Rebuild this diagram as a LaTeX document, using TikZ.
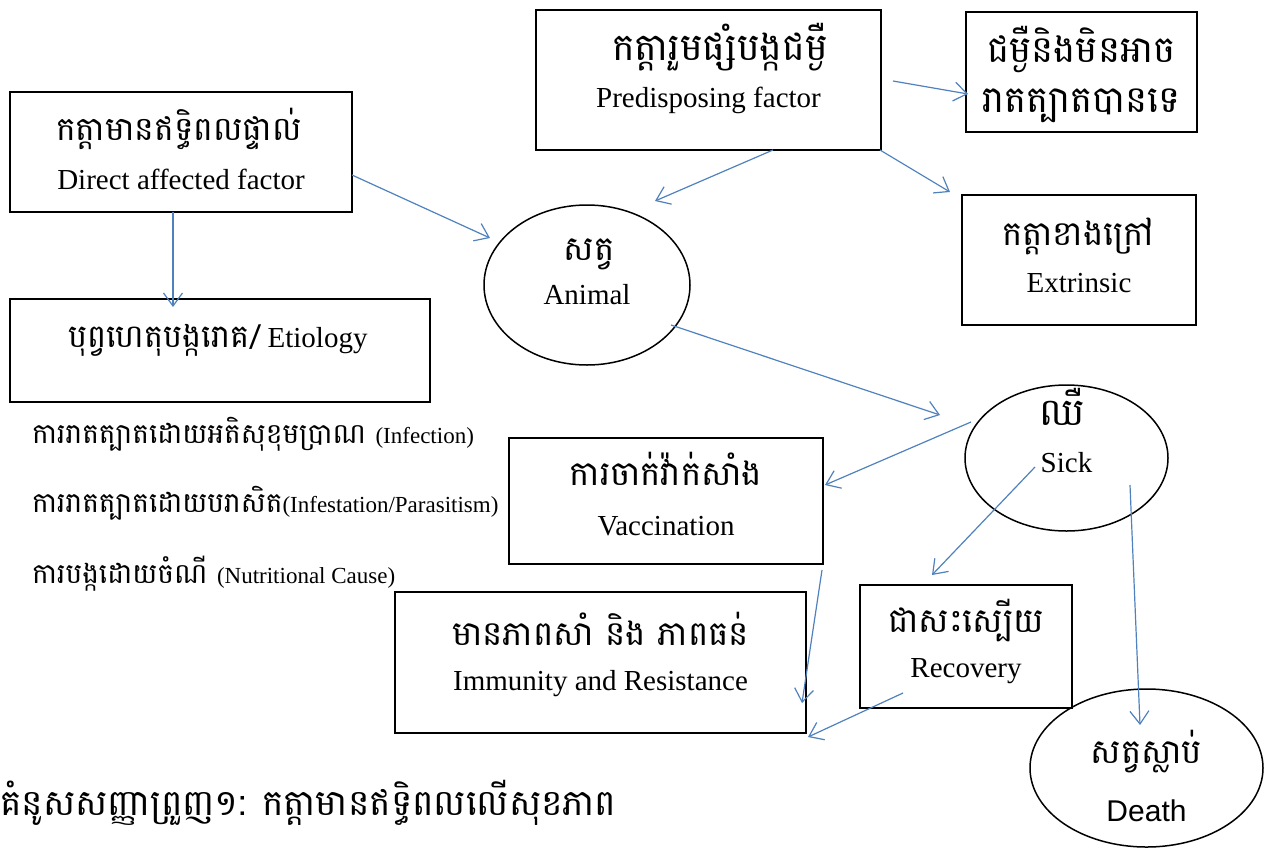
\documentclass[tikz,border=0pt]{standalone}
\usepackage{fontspec}
\setmainfont{Liberation Serif}
\newfontfamily\kh[Script=Khmer]{Battambang}
\newfontfamily\arialf{Liberation Sans}
\usetikzlibrary{arrows.meta,calc,shapes.geometric}
\definecolor{linkblue}{RGB}{79,129,189}

\tikzset{
  box/.style={draw=black, line width=1.3pt, rectangle, inner sep=0pt},
  oval/.style={draw=black, line width=1.5pt, ellipse, inner sep=0pt},
  kht/.style={font=\kh\fontsize{34}{38}\selectfont, inner sep=0pt, anchor=base},
  khbig/.style={kht, font=\kh\fontsize{38}{42}\selectfont},
  ent/.style={font=\fontsize{29}{33}\selectfont, inner sep=0pt, anchor=base},
  listt/.style={font=\kh\fontsize{28}{32}\selectfont, inner sep=0pt, anchor=base west},
  lnk/.style={draw=linkblue, line width=1.2pt,
    -{Straight Barb[length=13pt,width=19pt,line width=1.2pt]}}
}
\newcommand{\smalleng}{\rmfamily\fontsize{23}{27}\selectfont}

\begin{document}
\begin{tikzpicture}[x=1pt,y=-1pt]
\useasboundingbox (0,0) rectangle (1272,847);

% boxes
\node[box, minimum width=342pt, minimum height=120pt] (direct) at (181,152) {};
\node[box, minimum width=345pt, minimum height=140pt] (predis) at (708.5,80) {};
\node[box, minimum width=231pt, minimum height=120pt] (notinf) at (1081.5,72) {};
\node[box, minimum width=234pt, minimum height=130pt] (extr) at (1079,260) {};
\node[box, minimum width=420pt, minimum height=103pt] (etio) at (220,350.5) {};
\node[box, minimum width=314pt, minimum height=126pt] (vacc) at (666,501) {};
\node[box, minimum width=411pt, minimum height=141pt] (immun) at (600.5,662.5) {};
\node[box, minimum width=212pt, minimum height=123pt] (recov) at (966,646.5) {};

% ellipses
\node[oval, minimum width=206pt, minimum height=160pt] (animal) at (587,285) {};
\node[oval, minimum width=203pt, minimum height=146pt] (sick) at (1066.5,458) {};
\node[oval, minimum width=233pt, minimum height=158pt] (death) at (1146.5,768) {};

% labels
\node[kht, font=\kh\fontsize{33}{37}\selectfont] (directkh) at (179,140) {កត្តាមានឥទ្ធិពលផ្ទាល់};
\node[ent] (directen) at (181,189) {Direct affected factor};

\node[khbig] (prediskh) at (720,60) {កត្តារួមផ្សំបង្កជម្ងឺ};
\node[ent] (predisen) at (708.5,107) {Predisposing factor};

\node[khbig, font=\kh\fontsize{37}{41}\selectfont] (notinfa) at (1081.5,62) {ជម្ងឺនិងមិនអាច};
\node[khbig, font=\kh\fontsize{37}{41}\selectfont] (notinfb) at (1081.5,112) {រាតត្បាតបានទេ};

\node[kht] (extrkh) at (1078,245) {កត្តាខាងក្រៅ};
\node[ent] (extren) at (1079,292) {Extrinsic};

\node[kht] (animalkh) at (589,260) {សត្វ};
\node[ent] (animalen) at (587,304) {Animal};

\node[kht, font=\kh\fontsize{32}{36}\selectfont, anchor=base west] (etiokh) at (68,347) {បុព្វហេតុបង្ករោគ/\,{\rmfamily\fontsize{29}{33}\selectfont Etiology}};

\node[listt] (cause1) at (32,443) {ការរាតត្បាតដោយអតិសុខុមប្រាណ {\smalleng (Infection)}};
\node[listt] (cause2) at (32,512) {ការរាតត្បាតដោយបរាសិត{\smalleng(Infestation/Parasitism)}};
\node[listt] (cause3) at (32,583) {ការបង្កដោយចំណី {\smalleng (Nutritional Cause)}};

\node[kht, font=\kh\fontsize{38}{42}\selectfont] (sickkh) at (1062,425) {ឈឺ};
\node[ent] (sicken) at (1066.5,472) {Sick};

\node[kht] (vacckh) at (666,485) {ការចាក់វ៉ាក់សាំង};
\node[ent] (vaccen) at (666,535) {Vaccination};

\node[kht] (immunkh) at (600.5,645) {មានភាពសាំ និង ភាពធន់};
\node[ent] (immunen) at (600.5,690) {Immunity and Resistance};

\node[kht] (recovkh) at (966,632) {ជាសះស្បើយ};
\node[ent] (recoven) at (966,677) {Recovery};

\node[kht] (deathkh) at (1146.5,763) {សត្វស្លាប់};
\node[ent, font=\arialf\fontsize{30}{34}\selectfont] (deathen) at (1146.5,821) {Death};

\node[font=\kh\fontsize{36}{40}\selectfont, inner sep=0pt, anchor=base west] (caption) at (0,815)
  {គំនូសសញ្ញាព្រួញ១: កត្តាមានឥទ្ធិពលលើសុខភាព};

% connectors
\draw[lnk] ($(direct.center)+(171,23)$) -- ($(animal.center)+(-97,-47)$);
\draw[lnk] ($(direct.center)+(-8,60)$) -- ($(etio.center)+(-47,-43.5)$);
\draw[lnk] ($(predis.center)+(64.5,70)$) -- ($(animal.center)+(68,-84)$);
\draw[lnk] ($(predis.center)+(171.5,70)$) -- ($(extr.center)+(-129,-68)$);
\draw[lnk] ($(predis.center)+(184.5,1)$) -- ($(notinf.center)+(-113.5,22)$);
\draw[lnk] ($(animal.center)+(84,40)$) -- ($(sick.center)+(-126.5,-43)$);
\draw[lnk] ($(sick.center)+(-95.5,-36)$) -- ($(vacc.center)+(159,-16)$);
\draw[lnk] ($(sick.center)+(-31.5,9)$) -- ($(recov.center)+(-34,-71.5)$);
\draw[lnk] ($(sick.center)+(63.5,27)$) -- ($(death.center)+(-6.5,-43)$);
\draw[lnk] ($(vacc.center)+(156,69)$) -- ($(immun.center)+(201.5,40.5)$);
\draw[lnk] ($(recov.center)+(-63,46.5)$) -- ($(immun.center)+(207.5,74.5)$);
\end{tikzpicture}
\end{document}
